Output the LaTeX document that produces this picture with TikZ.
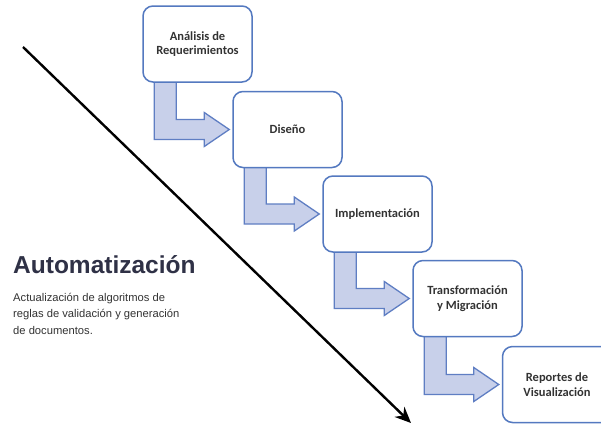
\documentclass[tikz,border=0pt]{standalone}
\usepackage{fontspec}
\setmainfont{Carlito}
\newfontfamily\arialfont{Liberation Sans}
\usetikzlibrary{arrows.meta, positioning, calc, backgrounds}

\definecolor{boxblue}{HTML}{5479C0}
\definecolor{arrowfill}{HTML}{C8D0EA}
\definecolor{arrowline}{HTML}{5F7EC3}
\definecolor{titlegray}{HTML}{2F3146}
\definecolor{textgray}{HTML}{333333}

% bent block arrow from the bottom of one step to the side of the next
\newcommand{\bentarrow}[2]{%
  \draw[bent]
    ($(#1.south west)+(12,-4)$) -- ($(#1.south west)+(34,-4)$)
    |- ($(#2.west)+(-28,-10)$) -- ($(#2.west)+(-28,-17)$)
    -- ($(#2.west)+(-3,0)$) -- ($(#2.west)+(-28,17)$)
    -- ($(#2.west)+(-28,10)$) -| cycle;}

\begin{document}
\begin{tikzpicture}[
  x=1pt, y=-1pt,
  stepbox/.style = {
    draw=boxblue, line width=1.5pt, fill=white,
    rounded corners=10pt, align=center,
    minimum width=109pt, minimum height=76pt,
    font=\fontsize{12.5}{14.5}\selectfont\bfseries, text=textgray
  },
  bent/.style = {draw=arrowline, fill=arrowfill, line width=1.3pt, line join=miter}
]
\clip (0,0) rectangle (601,426);

% Steps
\node[stepbox] (R) at (197.5,44) {Análisis de\\Requerimientos};
\node[stepbox] (D) at (287.5,129.5) {Diseño};
\node[stepbox] (I) at (377.5,214) {Implementación};
\node[stepbox] (T) at (467.5,298.5) {Transformación\\y Migración};
\node[stepbox] (V) at (557,384.5) {Reportes de\\Visualización};

% Block arrows between steps
\begin{scope}[on background layer]
  \fill[white] (0,0) rectangle (601,426);
  \bentarrow{R}{D}
  \bentarrow{D}{I}
  \bentarrow{I}{T}
  \bentarrow{T}{V}
\end{scope}

% Diagonal arrow
\coordinate (top) at (23,47);
\coordinate (bottom) at (411,423);
\draw[-{Stealth[length=16pt, width=14pt]}, line width=2.4pt] (top) -- (bottom);

% Left text
\node[anchor=base west, inner sep=0pt, text=titlegray,
      font=\arialfont\fontsize{24.5}{28}\selectfont\bfseries] (title) at (13,273) {Automatización};
\node[anchor=north west, inner sep=0pt, align=left, text=textgray,
      font=\arialfont\fontsize{11.2}{16.5}\selectfont] (desc) at (13,293)
  {Actualización de algoritmos de\\reglas de validación y generación\\de documentos.};

\end{tikzpicture}
\end{document}
